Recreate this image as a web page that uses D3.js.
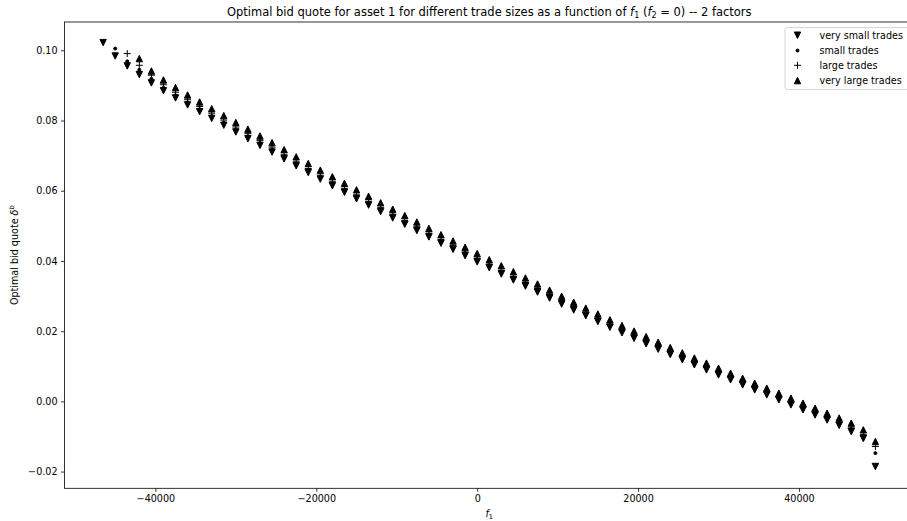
<!DOCTYPE html>
<html><head><meta charset="utf-8">
<script src="https://cdn.jsdelivr.net/npm/d3@7"></script>
<style>body{margin:0;background:#fff;overflow:hidden}svg{display:block;font-family:"DejaVu Sans",sans-serif;overflow:hidden}</style>
</head><body><svg id="c" width="907" height="521"></svg>
<script>
const f1 = [-46500,-45000,-43500,-42000,-40500,-39000,-37500,-36000,-34500,-33000,-31500,-30000,-28500,-27000,-25500,-24000,-22500,-21000,-19500,-18000,-16500,-15000,-13500,-12000,-10500,-9000,-7500,-6000,-4500,-3000,-1500,0,1500,3000,4500,6000,7500,9000,10500,12000,13500,15000,16500,18000,19500,21000,22500,24000,25500,27000,28500,30000,31500,33000,34500,36000,37500,39000,40500,42000,43500,45000,46500,48000,49500];
const verySmall = [0.10219,0.09838,0.09554,0.09309,0.09070,0.08848,0.08643,0.08444,0.08251,0.08060,0.07866,0.07673,0.07482,0.07292,0.07101,0.06908,0.06709,0.06518,0.06330,0.06142,0.05955,0.05770,0.05590,0.05406,0.05223,0.05044,0.04865,0.04683,0.04506,0.04330,0.04151,0.03974,0.03807,0.03627,0.03457,0.03283,0.03112,0.02942,0.02771,0.02603,0.02438,0.02273,0.02111,0.01952,0.01795,0.01639,0.01485,0.01334,0.01186,0.01041,0.00896,0.00754,0.00612,0.00469,0.00327,0.00185,0.00043,-0.00100,-0.00242,-0.00387,-0.00532,-0.00683,-0.00862,-0.01058,-0.01855];
const small = [null,0.10049,0.09687,0.09445,0.09189,0.08933,0.08720,0.08515,0.08322,0.08131,0.07938,0.07744,0.07553,0.07363,0.07172,0.06976,0.06780,0.06589,0.06401,0.06213,0.06026,0.05841,0.05661,0.05477,0.05294,0.05115,0.04936,0.04754,0.04577,0.04401,0.04222,0.04045,0.03878,0.03698,0.03528,0.03354,0.03183,0.03013,0.02842,0.02674,0.02509,0.02344,0.02182,0.02023,0.01866,0.01710,0.01556,0.01405,0.01257,0.01112,0.00967,0.00825,0.00683,0.00540,0.00398,0.00256,0.00114,-0.00029,-0.00171,-0.00316,-0.00461,-0.00612,-0.00791,-0.00987,-0.01474];
const large = [null,null,0.09906,0.09573,0.09289,0.09019,0.08805,0.08592,0.08398,0.08208,0.08012,0.07815,0.07625,0.07434,0.07243,0.07025,0.06823,0.06632,0.06444,0.06256,0.06069,0.05884,0.05702,0.05517,0.05335,0.05154,0.04974,0.04792,0.04613,0.04436,0.04257,0.04079,0.03907,0.03732,0.03561,0.03386,0.03214,0.03042,0.02870,0.02700,0.02534,0.02367,0.02204,0.02043,0.01885,0.01728,0.01572,0.01420,0.01271,0.01124,0.00979,0.00836,0.00693,0.00551,0.00409,0.00267,0.00124,-0.00019,-0.00161,-0.00304,-0.00448,-0.00593,-0.00755,-0.00949,-0.01286];
const veryLarge = [null,null,null,0.09764,0.09411,0.09155,0.08939,0.08728,0.08529,0.08336,0.08140,0.07943,0.07753,0.07559,0.07369,0.07169,0.06965,0.06774,0.06586,0.06398,0.06211,0.06026,0.05841,0.05656,0.05474,0.05292,0.05110,0.04928,0.04748,0.04569,0.04390,0.04211,0.04034,0.03864,0.03693,0.03516,0.03343,0.03169,0.02996,0.02825,0.02657,0.02489,0.02324,0.02162,0.02003,0.01844,0.01687,0.01533,0.01383,0.01235,0.01090,0.00945,0.00802,0.00660,0.00518,0.00376,0.00233,0.00091,-0.00051,-0.00193,-0.00336,-0.00475,-0.00620,-0.00811,-0.01144];
const seriesNames = ["very small trades","small trades","large trades","very large trades"];
const seriesMarkers = ["down","point","plus","up"];
const xTicks = [-40000,-20000,0,20000,40000];
const yTicks = [-0.02,0.00,0.02,0.04,0.06,0.08,0.10];

const W=907,H=521;
const L=64.5,R=914,T=22,B=488.3;
const x = d3.scaleLinear().domain([-51300,54300]).range([L,R]);
const y = d3.scaleLinear().domain([-0.02476,0.10806]).range([B,T]);
const svg = d3.select("#c");
svg.append("rect").attr("width",W).attr("height",H).attr("fill","#fff");

const s = 3.2;
const markerPath = {
  down: `M0,${s}L${-s},${-s}L${s},${-s}Z`,
  up: `M0,${-s}L${-s},${s}L${s},${s}Z`,
  plus: `M${-s-0.3},0H${s+0.3}M0,${-s-0.3}V${s+0.3}`
};
function drawMarker(g, type, cx, cy){
  if(type==="point"){
    g.append("circle").attr("cx",cx).attr("cy",cy).attr("r",1.5).attr("fill","#000").attr("stroke","#000").attr("stroke-width",1);
  } else if(type==="plus"){
    g.append("path").attr("d",markerPath.plus).attr("transform",`translate(${cx},${cy})`).attr("fill","none").attr("stroke","#000").attr("stroke-width",1);
  } else {
    g.append("path").attr("d",markerPath[type]).attr("transform",`translate(${cx},${cy})`).attr("fill","#000").attr("stroke","#000").attr("stroke-width",1).attr("stroke-linejoin","miter");
  }
}

// markers
const allSeries = [verySmall, small, large, veryLarge];
const gm = svg.append("g");
allSeries.forEach((vals,k)=>{
  const g = gm.append("g");
  vals.forEach((v,i)=>{ if(v!==null) drawMarker(g, seriesMarkers[k], x(f1[i]), y(v)); });
});

// axes
const xAxis = d3.axisBottom(x).tickValues(xTicks).tickFormat(d3.format("d")).tickSizeOuter(0).tickSize(3.5).tickPadding(3.5);
const gx = svg.append("g").attr("transform",`translate(0,${B})`).call(xAxis);
const yAxis = d3.axisLeft(y).tickValues(yTicks).tickFormat(d3.format(".2f")).tickSizeOuter(0).tickSize(3.5).tickPadding(3.5);
const gy = svg.append("g").attr("transform",`translate(${L},0)`).call(yAxis);
[gx,gy].forEach(g=>{
  g.select(".domain").remove();
  g.selectAll(".tick line").attr("stroke","#000").attr("stroke-width",0.8);
  g.selectAll(".tick text").attr("fill","#000").attr("font-size","9.6px").attr("font-family","DejaVu Sans");
});
// spines
svg.append("rect").attr("x",L).attr("y",T).attr("width",R-L).attr("height",B-T)
  .attr("fill","none").attr("stroke","#000").attr("stroke-width",0.8);

// title
const title = svg.append("text").attr("x",(L+R)/2).attr("y",16).attr("text-anchor","middle")
  .attr("font-size","11.5px").attr("fill","#000");
title.append("tspan").text("Optimal bid quote for asset 1 for different trade sizes as a function of ");
title.append("tspan").attr("font-style","italic").text("f");
title.append("tspan").attr("font-size","8px").attr("dy",2).text("1");
title.append("tspan").attr("dy",-2).text(" (");
title.append("tspan").attr("font-style","italic").text("f");
title.append("tspan").attr("font-size","8px").attr("dy",2).text("2");
title.append("tspan").attr("dy",-2).text(" = 0) -- 2 factors");

// x label
const xl = svg.append("text").attr("x",(L+R)/2).attr("y",517).attr("text-anchor","middle").attr("font-size","9.6px").attr("fill","#000");
xl.append("tspan").attr("font-style","italic").text("f");
xl.append("tspan").attr("font-size","6.7px").attr("dy",1.8).text("1");

// y label
const yl = svg.append("text").attr("transform",`translate(17.5,${(T+B)/2}) rotate(-90)`).attr("text-anchor","middle").attr("font-size","9.6px").attr("fill","#000");
yl.append("tspan").text("Optimal bid quote ");
yl.append("tspan").attr("font-style","italic").text("δ");
yl.append("tspan").attr("font-style","italic").attr("font-size","6.7px").attr("dy",-3.5).text("b");

// legend
const lg = svg.append("g");
lg.append("rect").attr("x",785).attr("y",27.5).attr("width",140).attr("height",62).attr("rx",2.5)
  .attr("fill","#fff").attr("fill-opacity",0.8).attr("stroke","#cccccc").attr("stroke-width",0.8);
const rowY = [35.2,50.5,65.3,80.6];
seriesNames.forEach((n,k)=>{
  drawMarker(lg, seriesMarkers[k], 797.5, rowY[k]);
  lg.append("text").attr("x",819.5).attr("y",rowY[k]).attr("dy","0.35em").attr("font-size","9.6px").attr("fill","#000").text(n);
});
</script></body></html>
